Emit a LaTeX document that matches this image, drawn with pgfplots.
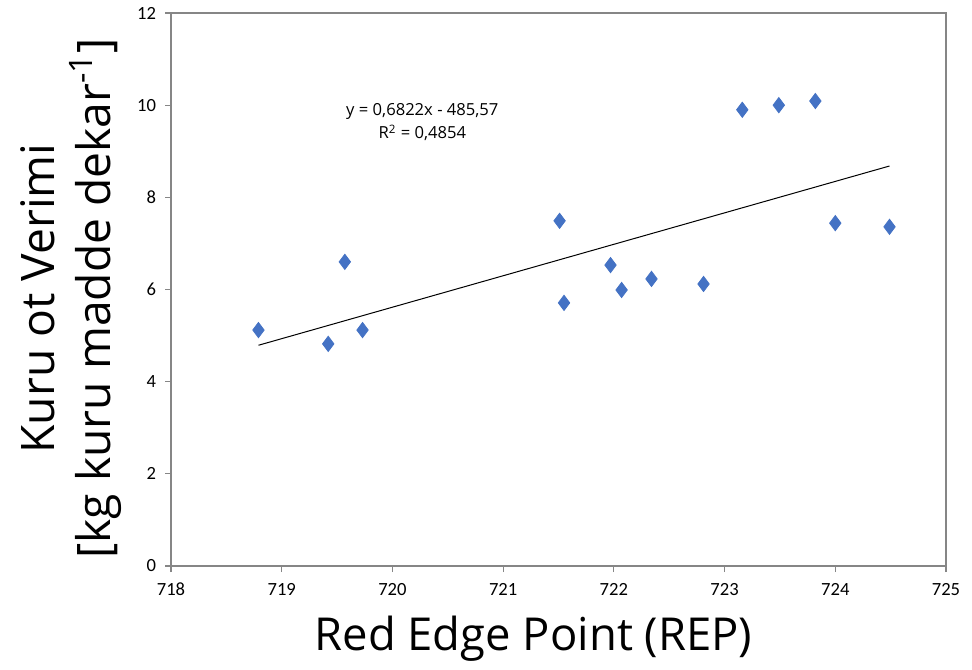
\documentclass[border=0pt]{standalone}
\usepackage{fontspec}
\setmainfont{Open Sans}
\newfontfamily\tickfont{Carlito}
\usepackage{pgfplots}
\pgfplotsset{compat=1.18}
\definecolor{mblue}{HTML}{4472C4}
\definecolor{axgray}{HTML}{868686}
\begin{document}
\begin{tikzpicture}
\begin{axis}[
  scale only axis,
  width=387.5pt, height=276.5pt,
  xmin=718, xmax=725, ymin=0, ymax=12,
  xtick={718,...,725}, ytick={0,2,...,12},
  /pgf/number format/assume math mode=true,
  /pgf/number format/1000 sep={},
  tick label style={font=\tickfont\fontsize{9.3}{10}\selectfont},
  xticklabel style={yshift=-2pt},
  yticklabel style={xshift=-1pt},
  axis line style={axgray, line width=0.6pt},
  tick style={axgray, line width=0.6pt},
  tick align=outside,
  major tick length=3pt,
  xtick pos=bottom, ytick pos=left,
  xlabel={Red Edge Point (REP)},
  xlabel style={font=\fontsize{22.7}{26}\selectfont, yshift=-3pt, xshift=-12.5pt},
  ylabel={\begin{tabular}{c}Kuru ot Verimi\\ {[}kg kuru madde dekar\textsuperscript{-1}{]}\end{tabular}},
  ylabel style={font=\fontsize{23.1}{25}\selectfont, yshift=-1pt, xshift=-4.5pt},
  clip=false,
]
\addplot[only marks, mark=diamond*, mark size=3.8pt, mblue, mark options={fill=mblue, draw=mblue}] coordinates {
(718.79,5.12) (719.42,4.82) (719.57,6.60) (719.73,5.12)
(721.51,7.49) (721.55,5.71) (721.97,6.53) (722.07,5.99)
(722.34,6.23) (722.81,6.12) (723.16,9.90) (723.49,10.00)
(723.82,10.09) (724.00,7.44) (724.49,7.36)
};
\addplot[black, line width=0.5pt, no marks] coordinates {(718.79,4.79) (724.49,8.68)};
\node[font=\fontsize{8.3}{11.5}\selectfont, align=center] at (axis cs:720.27,9.63) {y = 0,6822x - 485,57\\ R\textsuperscript{2} = 0,4854};
\end{axis}
\path (current axis.south west) ++(-85.5pt,-51.5pt) rectangle ++(486pt,334.5pt);
\end{tikzpicture}
\end{document}
